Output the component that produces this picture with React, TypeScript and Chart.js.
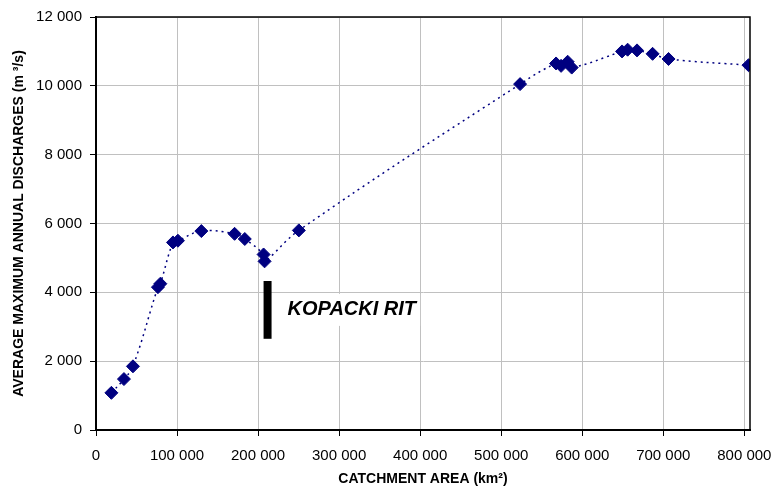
import React, { useEffect, useRef } from "react";
import { Chart, registerables } from "chart.js";

Chart.register(...registerables);

const catchmentArea = [19000, 34500, 45600, 76400, 79400, 95000, 101100, 130000, 171000, 183600, 206800, 208000, 250300, 523300, 567700, 573900, 582000, 587000, 649100, 656000, 667600, 686800, 706500, 805200];
const discharge = [1080, 1480, 1850, 4150, 4250, 5450, 5500, 5780, 5700, 5550, 5100, 4900, 5800, 10050, 10650, 10580, 10700, 10530, 11000, 11050, 11030, 10930, 10780, 10600];

const kopackiX = [211700, 211700];
const kopackiY = [2650, 4330];
const kopackiLabel = "KOPACKI RIT";

const xTickValues = [0, 100000, 200000, 300000, 400000, 500000, 600000, 700000, 800000];
const yTickValues = [0, 2000, 4000, 6000, 8000, 10000, 12000];

const xTitle = "CATCHMENT AREA (km²)";
const yTitle = "AVERAGE MAXIMUM ANNUAL DISCHARGES (m ³/s)";

const fmt = (v: number) => String(v).replace(/\B(?=(\d{3})+(?!\d))/g, " ");

const FONT = "Arial, 'Liberation Sans', sans-serif";

export default function App() {
  const ref = useRef<HTMLCanvasElement | null>(null);
  useEffect(() => {
    if (!ref.current) return;
    const frame = {
      id: "frame",
      afterDraw(chart: any) {
        const { ctx, chartArea: a, scales } = chart;
        ctx.save();
        ctx.strokeStyle = "#000";
        ctx.lineWidth = 1.5;
        ctx.beginPath();
        ctx.moveTo(a.left, a.top);
        ctx.lineTo(a.right, a.top);
        ctx.lineTo(a.right, a.bottom);
        ctx.stroke();
        const x = scales.x.getPixelForValue(kopackiX[0]) + 20;
        const y = scales.y.getPixelForValue((kopackiY[0] + kopackiY[1]) / 2);
        ctx.font = "italic bold 20px " + FONT;
        const w = ctx.measureText(kopackiLabel).width;
        ctx.fillStyle = "#fff";
        ctx.fillRect(x - 4, y - 16, w + 8, 32);
        ctx.fillStyle = "#000";
        ctx.textBaseline = "middle";
        ctx.fillText(kopackiLabel, x, y);
        ctx.restore();
      },
    };
    const chart = new Chart(ref.current, {
      type: "scatter",
      data: {
        datasets: [
          {
            data: catchmentArea.map((x, i) => ({ x, y: discharge[i] })),
            showLine: true,
            tension: 0.4,
            borderColor: "#000080",
            borderWidth: 1.5,
            borderDash: [2, 4],
            backgroundColor: "#000080",
            pointBackgroundColor: "#000080",
            pointBorderColor: "#000080",
            pointStyle: "rectRot",
            pointRadius: 6.5,
            pointBorderWidth: 1,
          },
          {
            data: kopackiX.map((x, i) => ({ x, y: kopackiY[i] })),
            showLine: true,
            borderColor: "#000",
            borderWidth: 8,
            pointRadius: 0,
            borderCapStyle: "butt",
          },
        ],
      },
      options: {
        animation: false,
        responsive: true,
        maintainAspectRatio: false,
        layout: { padding: { top: 16, right: 27, left: 0, bottom: 0 } },
        plugins: { legend: { display: false }, tooltip: { enabled: false } },
        scales: {
          x: {
            type: "linear",
            min: 0,
            max: 807000,
            afterFit: (s: any) => { s.height = 61; s.paddingLeft = 0; s.paddingRight = 0; },
            afterBuildTicks: (s: any) => { s.ticks = xTickValues.map((value) => ({ value })); },
            ticks: {
              color: "#000",
              padding: 11,
              maxRotation: 0,
              autoSkip: false,
              font: { family: FONT, size: 15 },
              callback: (v: any) => fmt(Number(v)),
            },
            grid: { color: "#c0c0c0", lineWidth: 1, tickColor: "#000", tickLength: 6 },
            border: { color: "#000", width: 2 },
            title: {
              display: true,
              text: xTitle,
              color: "#000",
              font: { family: FONT, size: 14, weight: "bold" },
              padding: { top: 0, bottom: 3 },
            },
          },
          y: {
            min: 0,
            max: 12000,
            afterFit: (s: any) => { s.width = 96; },
            afterBuildTicks: (s: any) => { s.ticks = yTickValues.map((value) => ({ value })); },
            ticks: {
              color: "#000",
              padding: 8,
              autoSkip: false,
              font: { family: FONT, size: 15 },
              callback: (v: any) => fmt(Number(v)),
            },
            grid: { color: "#c0c0c0", lineWidth: 1, tickColor: "#000", tickLength: 6 },
            border: { color: "#000", width: 2 },
            title: {
              display: true,
              text: yTitle,
              color: "#000",
              font: { family: FONT, size: 14, weight: "bold" },
              padding: { top: 11, bottom: 0 },
            },
          },
        },
      },
      plugins: [frame],
    } as any);
    return () => chart.destroy();
  }, []);
  return (
    <div style={{ position: "absolute", left: 0, top: 0, width: 777, height: 491, background: "#fff" }}>
      <canvas ref={ref} />
    </div>
  );
}
